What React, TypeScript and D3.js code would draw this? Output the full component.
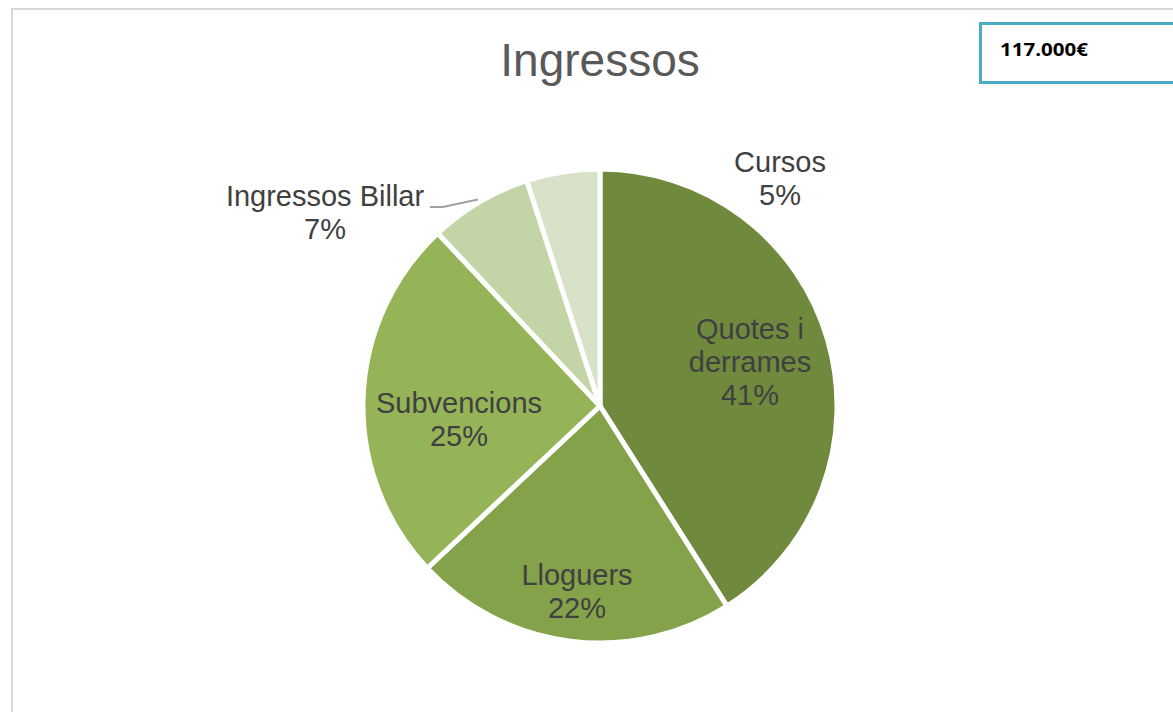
import React, { useEffect, useRef } from "react";
import * as d3 from "d3";

// chart data
const categories = ["Quotes i derrames", "Lloguers", "Subvencions", "Ingressos Billar", "Cursos"];
const values = [41, 22, 25, 7, 5];
const colors = ["#6f8a3d", "#84a249", "#95b458", "#c3d5a6", "#d7e2c8"];
const labelLines = [["Quotes i", "derrames", "41%"], ["Lloguers", "22%"], ["Subvencions", "25%"], ["Ingressos Billar", "7%"], ["Cursos", "5%"]];
const title = "Ingressos";
const total = "117.000€";

// label anchors (first baseline), measured from the pie centre
const labelPos = [[150, -67], [-23, 179], [-141, 7], [-275, -200], [180, -234]];

const W = 1173, H = 712;
const cx = 600, cy = 406, R = 237;

export default function App() {
  const ref = useRef<SVGSVGElement>(null);

  useEffect(() => {
    const svg = d3.select(ref.current);
    svg.selectAll("*").remove();

    // frame
    svg.append("path")
      .attr("d", `M12,${H} L12,9 L${W},9`)
      .attr("fill", "none")
      .attr("stroke", "#d9d9d9")
      .attr("stroke-width", 2);

    svg.append("text")
      .attr("x", cx)
      .attr("y", 76)
      .attr("text-anchor", "middle")
      .attr("font-family", "Liberation Sans, Arial, sans-serif")
      .attr("font-size", 46)
      .attr("fill", "#595959")
      .text(title);

    // total box
    svg.append("rect")
      .attr("x", 980.5)
      .attr("y", 23.5)
      .attr("width", 200)
      .attr("height", 59)
      .attr("fill", "#fff")
      .attr("stroke", "#4bacc6")
      .attr("stroke-width", 3);
    svg.append("text")
      .attr("x", 1000)
      .attr("y", 56)
      .attr("font-family", "Open Sans, Liberation Sans, sans-serif")
      .attr("font-weight", "bold")
      .attr("font-size", 18)
      .attr("textLength", 88)
      .attr("lengthAdjust", "spacingAndGlyphs")
      .attr("fill", "#000")
      .text(total);

    const pie = d3.pie<number>().sort(null).value(d => d);
    const arc = d3.arc<d3.PieArcDatum<number>>().innerRadius(0).outerRadius(R);
    const arcs = pie(values);

    const g = svg.append("g").attr("transform", `translate(${cx},${cy})`);
    g.selectAll("path.slice")
      .data(arcs)
      .enter().append("path")
      .attr("class", "slice")
      .attr("d", arc)
      .attr("fill", (d, i) => colors[i])
      .attr("stroke", "#fff")
      .attr("stroke-width", 5)
      .attr("stroke-linejoin", "round");

    // leader line for Ingressos Billar
    const billar = arcs[3];
    const mid = (billar.startAngle + billar.endAngle) / 2;
    const p0 = [Math.sin(mid) * (R + 3), -Math.cos(mid) * (R + 3)];
    g.append("polyline")
      .attr("points", `${-170},${-199} ${-157},${-199} ${p0[0]},${p0[1]}`)
      .attr("fill", "none")
      .attr("stroke", "#a0a0a0")
      .attr("stroke-width", 2);

    const labels = g.selectAll("text.lbl")
      .data(arcs)
      .enter().append("text")
      .attr("class", "lbl")
      .attr("text-anchor", "middle")
      .attr("font-family", "Liberation Sans, Arial, sans-serif")
      .attr("font-size", 29)
      .attr("fill", "#404040");
    labels.each(function (d, i) {
      const t = d3.select(this);
      labelLines[i].forEach((line, k) => {
        t.append("tspan")
          .attr("x", labelPos[i][0])
          .attr("y", labelPos[i][1] + k * 33)
          .text(line);
      });
    });
  }, []);

  return <svg ref={ref} width={W} height={H} style={{ position: "absolute", left: 0, top: 0, background: "#fff" }}></svg>;
}
